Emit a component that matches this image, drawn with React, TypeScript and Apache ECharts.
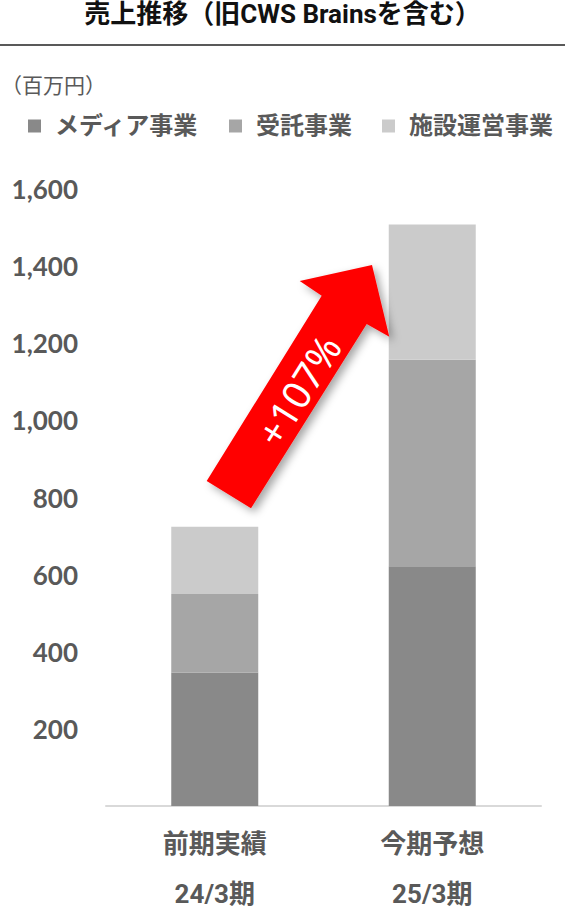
import React, { useEffect, useRef } from "react";
import * as echarts from "echarts";

const periodNames = ["前期実績", "今期予想"];
const periodCodes = ["24/3期", "25/3期"];
const seriesNames = ["メディア事業", "受託事業", "施設運営事業"];
const mediaValues = [346, 622];
const contractValues = [204, 535];
const facilityValues = [174, 351];
const yTicks = { min: 0, max: 1600, interval: 200 };
const growthLabel = "+107%";

const COLORS = ["#898989", "#a6a6a6", "#cbcbcb"];
const TEXT = "#595959";
const JP = "Roboto, 'Noto Sans CJK JP'";

export default function App() {
  const ref = useRef<HTMLDivElement>(null);
  useEffect(() => {
    if (!ref.current) return;
    const chart = echarts.init(ref.current, null, { renderer: "svg" });
    const cats = periodNames.map((n, i) => `${n}\n${periodCodes[i]}`);
    const values = [mediaValues, contractValues, facilityValues];
    const rot = (58 * Math.PI) / 180;
    chart.setOption({
      animation: false,
      backgroundColor: "#ffffff",
      grid: { left: 106, right: 24, top: 189, height: 626 },
      legend: {
        left: 28,
        top: 114,
        padding: 0,
        icon: "rect",
        itemWidth: 13,
        itemHeight: 13,
        itemGap: 30,
        data: seriesNames,
        textStyle: {
          color: TEXT,
          fontSize: 24,
          fontWeight: "bold",
          fontFamily: JP,
          padding: [0, 0, 0, 9],
        },
      },
      xAxis: {
        type: "category",
        data: cats,
        axisLine: { lineStyle: { color: "#d9d9d9", width: 2 } },
        axisTick: { show: false },
        axisLabel: {
          color: TEXT,
          fontSize: 26,
          fontWeight: "bold",
          fontFamily: JP,
          lineHeight: 50,
          margin: 13,
        },
      },
      yAxis: {
        type: "value",
        min: yTicks.min,
        max: yTicks.max,
        interval: yTicks.interval,
        splitLine: { show: false },
        axisLine: { show: false },
        axisTick: { show: false },
        axisLabel: {
          color: TEXT,
          fontSize: 26,
          fontWeight: "bold",
          fontFamily: "Lato",
          margin: 28,
          formatter: (v: number) => (v === 0 ? "" : v.toLocaleString("en-US")),
        },
      },
      series: seriesNames.map((name, i) => ({
        name,
        type: "bar",
        stack: "total",
        barWidth: 87,
        data: values[i],
        itemStyle: { color: COLORS[i] },
      })),
      graphic: [
        {
          type: "text",
          left: "center",
          top: 1,
          style: {
            text: "売上推移（旧CWS Brainsを含む）",
            fill: "#111111",
            fontSize: 26,
            fontWeight: "bold",
            fontFamily: JP,
          },
        },
        {
          type: "line",
          shape: { x1: 0, y1: 45, x2: 565, y2: 45 },
          style: { stroke: "#222222", lineWidth: 1.5 },
        },
        {
          type: "text",
          x: 1,
          y: 84,
          style: {
            text: "（百万円）",
            fill: TEXT,
            fontSize: 21,
            fontFamily: "Noto Sans CJK JP",
            textVerticalAlign: "middle",
          },
        },
        {
          type: "polygon",
          z: 100,
          shape: {
            points: [
              [206.7, 481],
              [321.7, 295.7],
              [299.7, 281],
              [372, 265],
              [389.3, 336.7],
              [366.7, 324],
              [251, 508.3],
            ],
          },
          style: {
            fill: "#ff0000",
            shadowBlur: 8,
            shadowOffsetX: 4,
            shadowOffsetY: 4,
            shadowColor: "rgba(0,0,0,0.35)",
          },
        },
        {
          type: "text",
          z: 101,
          x: 298,
          y: 390,
          rotation: rot,
          style: {
            text: growthLabel,
            fill: "#ffffff",
            fontSize: 39,
            fontFamily: "Noto Sans",
            textAlign: "center",
            textVerticalAlign: "middle",
          },
        },
      ],
    });
    return () => chart.dispose();
  }, []);
  return (
    <div
      ref={ref}
      style={{ position: "absolute", left: 0, top: 0, width: 565, height: 919 }}
    />
  );
}
